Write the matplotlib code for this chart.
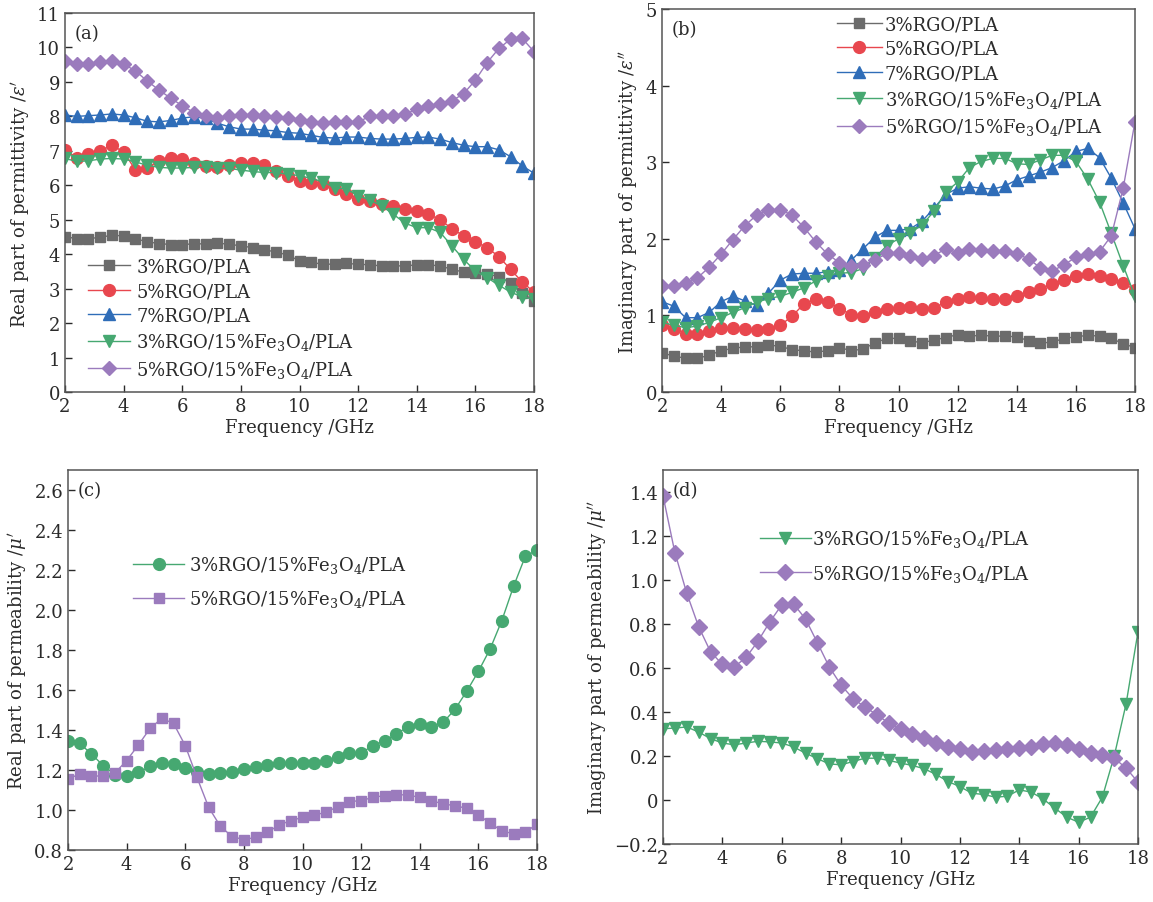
import matplotlib
matplotlib.use("Agg")
import matplotlib.pyplot as plt
from matplotlib.ticker import FuncFormatter

plt.rcParams['font.family'] = ['DejaVu Serif']
plt.rcParams['mathtext.fontset'] = 'dejavuserif'
plt.rcParams['font.size'] = 13

freq = [2.0, 2.4, 2.8, 3.2, 3.6, 4.0, 4.4, 4.8, 5.2, 5.6, 6.0, 6.4, 6.8, 7.2,
        7.6, 8.0, 8.4, 8.8, 9.2, 9.6, 10.0, 10.4, 10.8, 11.2, 11.6, 12.0, 12.4,
        12.8, 13.2, 13.6, 14.0, 14.4, 14.8, 15.2, 15.6, 16.0, 16.4, 16.8, 17.2,
        17.6, 18.0]

labels_ab = ["3%RGO/PLA", "5%RGO/PLA", "7%RGO/PLA",
             "3%RGO/15%Fe$_3$O$_4$/PLA", "5%RGO/15%Fe$_3$O$_4$/PLA"]
labels_cd = ["3%RGO/15%Fe$_3$O$_4$/PLA", "5%RGO/15%Fe$_3$O$_4$/PLA"]

# (a) real part of permittivity
eps_re_rgo3 = [4.51, 4.45, 4.45, 4.49, 4.55, 4.53, 4.45, 4.36, 4.31, 4.28,
               4.28, 4.30, 4.30, 4.32, 4.29, 4.24, 4.19, 4.12, 4.07, 3.97,
               3.81, 3.76, 3.71, 3.71, 3.73, 3.71, 3.69, 3.66, 3.66, 3.66,
               3.69, 3.69, 3.66, 3.56, 3.48, 3.45, 3.42, 3.35, 3.16, 2.88, 2.64]
eps_re_rgo5 = [7.02, 6.80, 6.92, 7.00, 7.16, 6.97, 6.45, 6.49, 6.71, 6.80,
               6.76, 6.66, 6.56, 6.52, 6.60, 6.66, 6.66, 6.58, 6.42, 6.27,
               6.13, 6.08, 6.03, 5.89, 5.74, 5.60, 5.55, 5.45, 5.40, 5.32,
               5.26, 5.16, 5.00, 4.74, 4.53, 4.36, 4.19, 3.93, 3.56, 3.19, 2.90]
eps_re_rgo7 = [8.04, 8.00, 8.02, 8.04, 8.07, 8.04, 7.96, 7.86, 7.84, 7.88,
               7.95, 7.99, 7.94, 7.80, 7.70, 7.63, 7.63, 7.60, 7.58, 7.53,
               7.51, 7.45, 7.39, 7.37, 7.40, 7.40, 7.36, 7.34, 7.34, 7.36,
               7.39, 7.40, 7.34, 7.24, 7.16, 7.12, 7.12, 7.03, 6.83, 6.56, 6.35]
eps_re_fe3 = [6.78, 6.69, 6.71, 6.76, 6.78, 6.76, 6.68, 6.58, 6.52, 6.50,
              6.50, 6.52, 6.52, 6.50, 6.49, 6.44, 6.40, 6.37, 6.37, 6.32,
              6.28, 6.20, 6.10, 5.93, 5.89, 5.70, 5.57, 5.40, 5.16, 4.90,
              4.77, 4.77, 4.63, 4.24, 3.85, 3.51, 3.32, 3.10, 2.90, 2.76, 2.69]
eps_re_fe5 = [9.61, 9.52, 9.53, 9.59, 9.61, 9.52, 9.32, 9.03, 8.77, 8.53,
              8.31, 8.11, 8.00, 7.95, 8.00, 8.03, 8.04, 8.02, 7.99, 7.94,
              7.90, 7.84, 7.82, 7.84, 7.85, 7.84, 8.00, 8.00, 8.02, 8.06,
              8.21, 8.31, 8.37, 8.45, 8.66, 9.05, 9.56, 9.97, 10.24, 10.26, 9.88]

# (b) imaginary part of permittivity
eps_im_rgo3 = [0.51, 0.47, 0.44, 0.44, 0.48, 0.54, 0.57, 0.59, 0.59, 0.61,
               0.60, 0.55, 0.54, 0.52, 0.54, 0.58, 0.54, 0.56, 0.64, 0.70,
               0.70, 0.67, 0.64, 0.68, 0.71, 0.75, 0.73, 0.74, 0.73, 0.73,
               0.72, 0.67, 0.64, 0.65, 0.70, 0.72, 0.74, 0.73, 0.70, 0.63, 0.58]
eps_im_rgo5 = [0.87, 0.82, 0.76, 0.76, 0.80, 0.83, 0.83, 0.82, 0.81, 0.82,
               0.87, 0.99, 1.15, 1.21, 1.18, 1.09, 1.01, 0.99, 1.04, 1.08,
               1.10, 1.11, 1.09, 1.10, 1.17, 1.21, 1.24, 1.23, 1.21, 1.22,
               1.25, 1.31, 1.34, 1.41, 1.46, 1.52, 1.54, 1.52, 1.48, 1.42, 1.33]
eps_im_rgo7 = [1.18, 1.12, 0.97, 0.97, 1.04, 1.18, 1.25, 1.19, 1.13, 1.29,
               1.46, 1.54, 1.55, 1.55, 1.57, 1.59, 1.72, 1.87, 2.02, 2.11,
               2.11, 2.13, 2.23, 2.40, 2.58, 2.66, 2.68, 2.66, 2.65, 2.69,
               2.77, 2.82, 2.87, 2.93, 3.02, 3.14, 3.18, 3.06, 2.79, 2.47, 2.13]
eps_im_fe3 = [0.91, 0.87, 0.84, 0.86, 0.91, 0.97, 1.04, 1.10, 1.17, 1.22,
              1.25, 1.30, 1.36, 1.45, 1.52, 1.55, 1.56, 1.61, 1.75, 1.91,
              2.00, 2.08, 2.18, 2.36, 2.61, 2.74, 2.93, 3.01, 3.05, 3.05,
              2.98, 2.97, 3.03, 3.09, 3.09, 3.01, 2.78, 2.48, 2.07, 1.65, 1.25]
eps_im_fe5 = [1.38, 1.39, 1.42, 1.49, 1.63, 1.80, 1.99, 2.17, 2.31, 2.38,
              2.38, 2.31, 2.15, 1.96, 1.80, 1.69, 1.65, 1.66, 1.72, 1.81,
              1.81, 1.78, 1.74, 1.78, 1.87, 1.82, 1.87, 1.86, 1.84, 1.84,
              1.80, 1.74, 1.62, 1.58, 1.66, 1.76, 1.80, 1.83, 2.04, 2.66, 3.53]

# (c) real part of permeability
mu_re_fe3 = [1.347, 1.333, 1.280, 1.222, 1.177, 1.168, 1.188, 1.218, 1.235, 1.230,
             1.210, 1.190, 1.180, 1.183, 1.190, 1.205, 1.217, 1.227, 1.233, 1.235,
             1.233, 1.233, 1.243, 1.263, 1.285, 1.285, 1.322, 1.347, 1.380, 1.417,
             1.430, 1.413, 1.438, 1.503, 1.593, 1.693, 1.805, 1.947, 2.118, 2.268, 2.300]
mu_re_fe5 = [1.155, 1.180, 1.172, 1.168, 1.185, 1.247, 1.325, 1.408, 1.458, 1.433,
             1.322, 1.163, 1.013, 0.918, 0.867, 0.852, 0.863, 0.888, 0.925, 0.947,
             0.963, 0.975, 0.988, 1.017, 1.042, 1.047, 1.063, 1.072, 1.077, 1.075,
             1.063, 1.047, 1.030, 1.022, 1.008, 0.977, 0.933, 0.897, 0.880, 0.888, 0.930]

# (d) imaginary part of permeability
mu_im_fe3 = [0.324, 0.327, 0.332, 0.309, 0.279, 0.259, 0.251, 0.259, 0.267, 0.264,
             0.259, 0.241, 0.213, 0.188, 0.164, 0.160, 0.175, 0.190, 0.190, 0.180,
             0.168, 0.157, 0.142, 0.116, 0.084, 0.061, 0.031, 0.025, 0.013, 0.017,
             0.046, 0.036, 0.005, -0.037, -0.078, -0.101, -0.078, 0.013, 0.200, 0.438, 0.765]
mu_im_fe5 = [1.383, 1.125, 0.940, 0.788, 0.674, 0.616, 0.605, 0.648, 0.722, 0.810,
             0.887, 0.891, 0.823, 0.715, 0.605, 0.522, 0.461, 0.423, 0.388, 0.350,
             0.324, 0.301, 0.282, 0.259, 0.241, 0.233, 0.218, 0.221, 0.229, 0.233,
             0.236, 0.241, 0.256, 0.259, 0.248, 0.233, 0.215, 0.203, 0.190, 0.145, 0.081]

GRAY = '#6b6b6b'
RED = '#e8474e'
BLUE = '#2f6db8'
GREEN = '#46a871'
PURPLE = '#9b7bbd'
TXT = '#2a2a2a'

W, H = 1153, 903


def make_axes(fig, left, top, right, bottom):
    # pixel box -> figure fraction
    return fig.add_axes([left / W, 1 - bottom / H, (right - left) / W, (bottom - top) / H])


def style_axes(ax, ylim, yticks, ylabel, tag, fmt=None):
    ax.set_xlim(2, 18)
    ax.set_xticks(range(2, 19, 2))
    ax.set_ylim(*ylim)
    ax.set_yticks(yticks)
    if fmt is not None:
        ax.yaxis.set_major_formatter(FuncFormatter(fmt))
    ax.tick_params(direction='in', length=5, width=1, colors=TXT, labelsize=13)
    for sp in ax.spines.values():
        sp.set_color('#555555')
        sp.set_linewidth(1.1)
    ax.set_xlabel('Frequency /GHz', color=TXT, fontsize=13, labelpad=2)
    ax.set_ylabel(ylabel, color=TXT, fontsize=13, labelpad=4)
    ax.text(0.02, 0.97, tag, transform=ax.transAxes, ha='left', va='top',
            color=TXT, fontsize=13)


def draw(ax, y, color, marker, label, ms=8):
    ax.plot(freq, y, color=color, lw=1.0, marker=marker, ms=ms,
            markeredgecolor=color, markerfacecolor=color, label=label)


fig = plt.figure(figsize=(W / 100, H / 100), dpi=100)

# (a)
ax = make_axes(fig, 65, 14, 534, 393)
draw(ax, eps_re_rgo3, GRAY, 's', labels_ab[0], 7.5)
draw(ax, eps_re_rgo5, RED, 'o', labels_ab[1], 8.5)
draw(ax, eps_re_rgo7, BLUE, '^', labels_ab[2], 8.5)
draw(ax, eps_re_fe3, GREEN, 'v', labels_ab[3], 8.5)
draw(ax, eps_re_fe5, PURPLE, 'D', labels_ab[4], 7.5)
style_axes(ax, (0, 11), range(0, 12), "Real part of permittivity /$\\varepsilon'$", '(a)')
ax.legend(loc='lower left', bbox_to_anchor=(0.015, -0.01), frameon=False,
          handlelength=2.3, labelspacing=0.36, handletextpad=0.35,
          fontsize=13, labelcolor=TXT)

# (b)
ax = make_axes(fig, 662, 10, 1135, 393)
draw(ax, eps_im_rgo3, GRAY, 's', labels_ab[0], 7.5)
draw(ax, eps_im_rgo5, RED, 'o', labels_ab[1], 8.5)
draw(ax, eps_im_rgo7, BLUE, '^', labels_ab[2], 8.5)
draw(ax, eps_im_fe3, GREEN, 'v', labels_ab[3], 8.5)
draw(ax, eps_im_fe5, PURPLE, 'D', labels_ab[4], 7.5)
style_axes(ax, (0, 5), range(0, 6), "Imaginary part of permittivity /$\\varepsilon''$", '(b)')
ax.legend(loc='upper left', bbox_to_anchor=(0.335, 1.026), frameon=False,
          handlelength=2.5, labelspacing=0.36, handletextpad=0.15,
          fontsize=13, labelcolor=TXT)

# (c)
ax = make_axes(fig, 68, 471, 537, 851)
draw(ax, mu_re_fe3, GREEN, 'o', labels_cd[0], 8.5)
draw(ax, mu_re_fe5, PURPLE, 's', labels_cd[1], 7.5)
style_axes(ax, (0.8, 2.7), [0.8 + 0.2 * i for i in range(10)],
           "Real part of permeability /$\\mu'$", '(c)',
           lambda v, p: f'{v:.1f}')
ax.legend(loc='upper left', bbox_to_anchor=(0.105, 0.822), frameon=False,
          handlelength=2.8, labelspacing=0.75, handletextpad=0.3,
          fontsize=13, labelcolor=TXT)

# (d)
ax = make_axes(fig, 663, 471, 1138, 845)
draw(ax, mu_im_fe3, GREEN, 'v', labels_cd[0], 8.5)
draw(ax, mu_im_fe5, PURPLE, 'D', labels_cd[1], 8)
style_axes(ax, (-0.2, 1.5), [-0.2 + 0.2 * i for i in range(9)],
           "Imaginary part of permeability /$\\mu''$", '(d)',
           lambda v, p: '0' if abs(v) < 1e-9 else f'{v:.1f}'.replace('-', '\u2212'))
ax.legend(loc='upper left', bbox_to_anchor=(0.17, 0.888), frameon=False,
          handlelength=2.8, labelspacing=0.75, handletextpad=0.1,
          fontsize=13, labelcolor=TXT)

fig.savefig('out.png', dpi=100)
